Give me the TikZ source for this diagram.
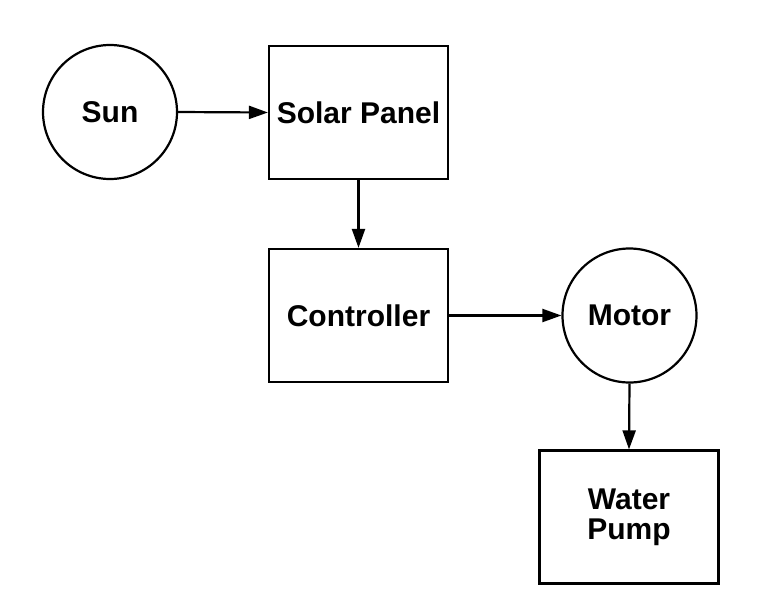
\documentclass[tikz,border=0pt]{standalone}
\usepackage{fontspec}
\setmainfont{Liberation Sans}
\usetikzlibrary{arrows.meta}
\begin{document}
\begin{tikzpicture}[x=1pt,y=-1pt,
  every node/.style={font=\fontsize{30}{30}\selectfont\bfseries, line width=2.2pt, inner sep=0pt},
  boxnode/.style={draw, rectangle, minimum width=179pt, minimum height=133pt, align=center},
  circnode/.style={draw, circle, minimum size=134pt},
  conn/.style={line width=2.2pt, -{Triangle[length=19pt,width=13pt]}}]
\useasboundingbox (0,0) rectangle (764,590);
\fill[white] (0,0) rectangle (764,590);
\node[circnode] (sun) at (110,112) {Sun};
\node[boxnode] (panel) at (358.5,112.5) {Solar Panel};
\node[boxnode] (ctrl) at (358.5,315.5) {Controller};
\node[circnode] (motor) at (629.5,315.5) {Motor};
\node[boxnode] (pump) at (629,517) {Water\\Pump};
\draw[conn] (sun.east) -- (panel.west);
\draw[conn] (panel.south) -- (ctrl.north);
\draw[conn] (ctrl.east) -- (motor.west);
\draw[conn] (motor.south) -- (pump.north);
\end{tikzpicture}
\end{document}
